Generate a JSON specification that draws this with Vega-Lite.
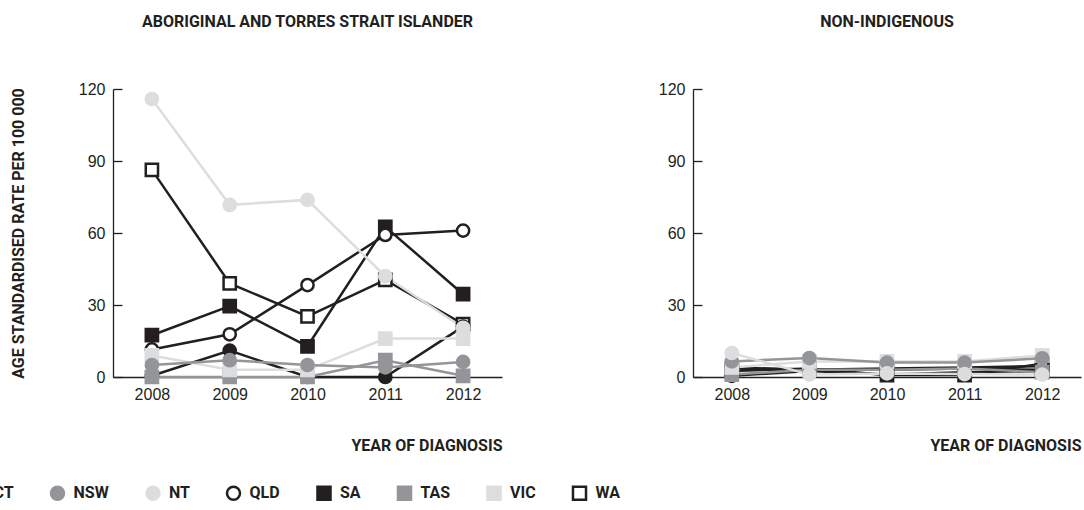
{
  "$schema": "https://vega.github.io/schema/vega-lite/v6.json",
  "autosize": {"type": "none"},
  "padding": {"left": 113, "top": 89, "right": 971, "bottom": 421},
  "background": "white",
  "datasets": {
    "rates": [
      {"group": "ATSI", "state": "WA", "year": "2008", "rate": 86.3},
      {"group": "ATSI", "state": "WA", "year": "2009", "rate": 39},
      {"group": "ATSI", "state": "WA", "year": "2010", "rate": 25.3},
      {"group": "ATSI", "state": "WA", "year": "2011", "rate": 40.5},
      {"group": "ATSI", "state": "WA", "year": "2012", "rate": 22},
      {"group": "ATSI", "state": "SA", "year": "2008", "rate": 17.4},
      {"group": "ATSI", "state": "SA", "year": "2009", "rate": 29.5},
      {"group": "ATSI", "state": "SA", "year": "2010", "rate": 12.8},
      {"group": "ATSI", "state": "SA", "year": "2011", "rate": 62.6},
      {"group": "ATSI", "state": "SA", "year": "2012", "rate": 34.5},
      {"group": "ATSI", "state": "ACT", "year": "2008", "rate": 0.5},
      {"group": "ATSI", "state": "ACT", "year": "2009", "rate": 11},
      {"group": "ATSI", "state": "ACT", "year": "2010", "rate": 0},
      {"group": "ATSI", "state": "ACT", "year": "2011", "rate": 0},
      {"group": "ATSI", "state": "ACT", "year": "2012", "rate": 21},
      {"group": "ATSI", "state": "QLD", "year": "2008", "rate": 11.5},
      {"group": "ATSI", "state": "QLD", "year": "2009", "rate": 17.8},
      {"group": "ATSI", "state": "QLD", "year": "2010", "rate": 38.3},
      {"group": "ATSI", "state": "QLD", "year": "2011", "rate": 59.2},
      {"group": "ATSI", "state": "QLD", "year": "2012", "rate": 61},
      {"group": "ATSI", "state": "TAS", "year": "2008", "rate": 0},
      {"group": "ATSI", "state": "TAS", "year": "2009", "rate": 0},
      {"group": "ATSI", "state": "TAS", "year": "2010", "rate": 0},
      {"group": "ATSI", "state": "TAS", "year": "2011", "rate": 7},
      {"group": "ATSI", "state": "TAS", "year": "2012", "rate": 0.5},
      {"group": "ATSI", "state": "VIC", "year": "2008", "rate": 9},
      {"group": "ATSI", "state": "VIC", "year": "2009", "rate": 3},
      {"group": "ATSI", "state": "VIC", "year": "2010", "rate": 3},
      {"group": "ATSI", "state": "VIC", "year": "2011", "rate": 16},
      {"group": "ATSI", "state": "VIC", "year": "2012", "rate": 16},
      {"group": "ATSI", "state": "NSW", "year": "2008", "rate": 5},
      {"group": "ATSI", "state": "NSW", "year": "2009", "rate": 7},
      {"group": "ATSI", "state": "NSW", "year": "2010", "rate": 5},
      {"group": "ATSI", "state": "NSW", "year": "2011", "rate": 4},
      {"group": "ATSI", "state": "NSW", "year": "2012", "rate": 6.3},
      {"group": "ATSI", "state": "NT", "year": "2008", "rate": 115.8},
      {"group": "ATSI", "state": "NT", "year": "2009", "rate": 71.7},
      {"group": "ATSI", "state": "NT", "year": "2010", "rate": 73.8},
      {"group": "ATSI", "state": "NT", "year": "2011", "rate": 42},
      {"group": "ATSI", "state": "NT", "year": "2012", "rate": 20.5},
      {"group": "NI", "state": "WA", "year": "2008", "rate": 3.5},
      {"group": "NI", "state": "WA", "year": "2009", "rate": 3},
      {"group": "NI", "state": "WA", "year": "2010", "rate": 3},
      {"group": "NI", "state": "WA", "year": "2011", "rate": 3.5},
      {"group": "NI", "state": "WA", "year": "2012", "rate": 3},
      {"group": "NI", "state": "SA", "year": "2008", "rate": 2.5},
      {"group": "NI", "state": "SA", "year": "2009", "rate": 3.5},
      {"group": "NI", "state": "SA", "year": "2010", "rate": 0.8},
      {"group": "NI", "state": "SA", "year": "2011", "rate": 0.8},
      {"group": "NI", "state": "SA", "year": "2012", "rate": 5.5},
      {"group": "NI", "state": "ACT", "year": "2008", "rate": 0.5},
      {"group": "NI", "state": "ACT", "year": "2009", "rate": 2.5},
      {"group": "NI", "state": "ACT", "year": "2010", "rate": 1},
      {"group": "NI", "state": "ACT", "year": "2011", "rate": 2},
      {"group": "NI", "state": "ACT", "year": "2012", "rate": 2.5},
      {"group": "NI", "state": "QLD", "year": "2008", "rate": 4},
      {"group": "NI", "state": "QLD", "year": "2009", "rate": 3},
      {"group": "NI", "state": "QLD", "year": "2010", "rate": 3.5},
      {"group": "NI", "state": "QLD", "year": "2011", "rate": 4},
      {"group": "NI", "state": "QLD", "year": "2012", "rate": 4.5},
      {"group": "NI", "state": "TAS", "year": "2008", "rate": 1},
      {"group": "NI", "state": "TAS", "year": "2009", "rate": 3},
      {"group": "NI", "state": "TAS", "year": "2010", "rate": 3},
      {"group": "NI", "state": "TAS", "year": "2011", "rate": 3.5},
      {"group": "NI", "state": "TAS", "year": "2012", "rate": 2},
      {"group": "NI", "state": "VIC", "year": "2008", "rate": 4},
      {"group": "NI", "state": "VIC", "year": "2009", "rate": 6.5},
      {"group": "NI", "state": "VIC", "year": "2010", "rate": 6.5},
      {"group": "NI", "state": "VIC", "year": "2011", "rate": 6.5},
      {"group": "NI", "state": "VIC", "year": "2012", "rate": 9},
      {"group": "NI", "state": "NSW", "year": "2008", "rate": 6.5},
      {"group": "NI", "state": "NSW", "year": "2009", "rate": 7.9},
      {"group": "NI", "state": "NSW", "year": "2010", "rate": 6},
      {"group": "NI", "state": "NSW", "year": "2011", "rate": 6},
      {"group": "NI", "state": "NSW", "year": "2012", "rate": 7.8},
      {"group": "NI", "state": "NT", "year": "2008", "rate": 10},
      {"group": "NI", "state": "NT", "year": "2009", "rate": 1},
      {"group": "NI", "state": "NT", "year": "2010", "rate": 1.5},
      {"group": "NI", "state": "NT", "year": "2011", "rate": 1.2},
      {"group": "NI", "state": "NT", "year": "2012", "rate": 1}
    ]
  },
  "data": {"name": "rates"},
  "spacing": 156,
  "hconcat": [
    {
      "title": {"text": "ABORIGINAL AND TORRES STRAIT ISLANDER"},
      "width": 389,
      "height": 288,
      "transform": [{"filter": "datum.group === 'ATSI'"}],
      "encoding": {
        "x": {"field": "year", "type": "ordinal", "scale": {"type": "point", "padding": 0.5}, "axis": {"title": "YEAR OF DIAGNOSIS"}},
        "y": {"field": "rate", "type": "quantitative", "scale": {"domain": [0, 120]}, "axis": {"title": "AGE STANDARDISED RATE PER 100 000", "values": [0, 30, 60, 90, 120]}}
      },
      "layer": [
        {"mark": {"type": "line", "strokeWidth": 2.5}, "encoding": {"color": {"field": "state", "type": "nominal", "legend": null}}},
        {"mark": {"type": "point", "filled": true, "opacity": 1, "size": 150, "strokeWidth": 2.5},
         "encoding": {
           "fill": {"field": "state", "type": "nominal", "scale": {"range": ["#231f20", "#939598", "#dcddde", "#ffffff", "#231f20", "#939598", "#dcddde", "#ffffff"]}},
           "stroke": {"field": "state", "type": "nominal"},
           "shape": {"field": "state", "type": "nominal"}}}
      ]
    },
    {
      "title": {"text": "NON-INDIGENOUS"},
      "width": 388,
      "height": 288,
      "transform": [{"filter": "datum.group === 'NI'"}],
      "encoding": {
        "x": {"field": "year", "type": "ordinal", "scale": {"type": "point", "padding": 0.5}, "axis": {"title": "YEAR OF DIAGNOSIS"}},
        "y": {"field": "rate", "type": "quantitative", "scale": {"domain": [0, 120]}, "axis": {"title": null, "values": [0, 30, 60, 90, 120]}}
      },
      "layer": [
        {"mark": {"type": "line", "strokeWidth": 2.5}, "encoding": {"color": {"field": "state", "type": "nominal", "legend": null}}},
        {"mark": {"type": "point", "filled": true, "opacity": 1, "size": 150, "strokeWidth": 2.5},
         "encoding": {
           "fill": {"field": "state", "type": "nominal", "scale": {"range": ["#231f20", "#939598", "#dcddde", "#ffffff", "#231f20", "#939598", "#dcddde", "#ffffff"]}},
           "stroke": {"field": "state", "type": "nominal"},
           "shape": {"field": "state", "type": "nominal"}}}
      ]
    }
  ],
  "resolve": {"scale": {"color": "shared", "stroke": "shared", "fill": "shared", "shape": "shared"}},
  "config": {
    "view": {"stroke": null},
    "range": {
      "category": ["#231f20", "#939598", "#dcddde", "#231f20", "#231f20", "#939598", "#dcddde", "#231f20"],
      "ordinal": ["#231f20", "#939598", "#dcddde", "#231f20", "#231f20", "#939598", "#dcddde", "#231f20"],
      "symbol": ["circle", "circle", "circle", "circle", "square", "square", "square", "square"]
    },
    "title": {"font": "Roboto", "fontSize": 16, "fontWeight": "bold", "color": "#231f20", "offset": 51, "anchor": "middle"},
    "axis": {
      "labelFont": "Liberation Sans", "labelFontSize": 16, "labelColor": "#231f20",
      "titleFont": "Roboto", "titleFontSize": 16, "titleFontWeight": "bold", "titleColor": "#231f20",
      "domainColor": "#231f20", "domainWidth": 1.3, "tickColor": "#231f20", "tickWidth": 1.3, "grid": false
    },
    "axisX": {"labelAngle": 0, "ticks": false, "labelPadding": 9, "titleAnchor": "end", "titlePadding": 35},
    "axisY": {"tickSize": -9, "labelPadding": 17, "titlePadding": 52},
    "legend": {
      "orient": "none", "direction": "horizontal", "legendX": -154, "legendY": 396, "title": null,
      "labelFont": "Roboto", "labelFontSize": 16, "labelFontWeight": "bold", "labelColor": "#231f20",
      "symbolSize": 170, "symbolStrokeWidth": 2.5, "labelOffset": 8, "columnPadding": 31.5
    }
  },
  "encoding": {}
}
